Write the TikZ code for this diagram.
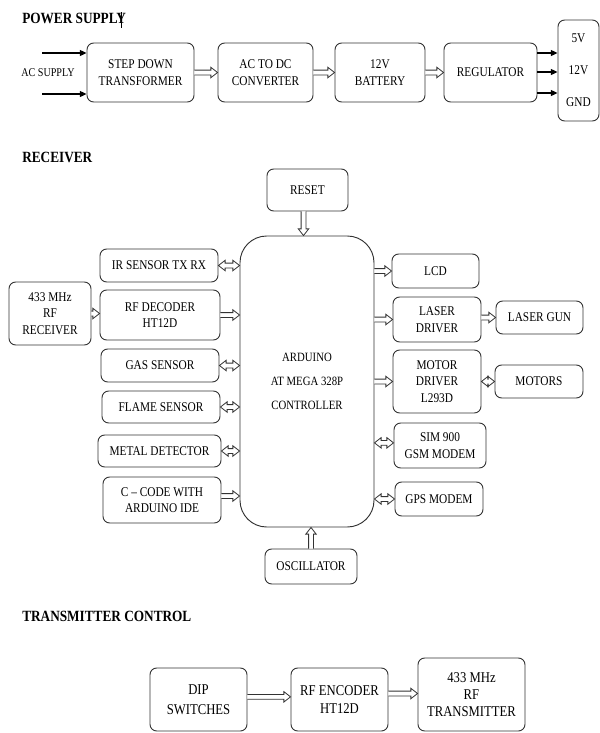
\documentclass[tikz,border=0pt]{standalone}
\usepackage{fontspec}
\setmainfont{Liberation Serif}[FakeStretch=0.85]
\usetikzlibrary{arrows.meta,calc}
\newcommand\bx[7][]{\node[box,#1,minimum width={(#5-#3)*0.75pt},minimum height={(#6-#4)*0.75pt}] (#2) at ({(#3+#5)/2},{(#4+#6)/2}) {#7};}
% hollow block arrow, one head at #2
\newcommand\harrow[2]{\draw[blk] let \p1=(#1),\p2=(#2),\n1={veclen(\x2-\x1,\y2-\y1)},\n2={(\x2-\x1)/\n1},\n3={(\y2-\y1)/\n1} in
  ({\x1-\n3*1.8pt},{\y1+\n2*1.8pt}) -- ({\x2-\n2*5pt-\n3*1.8pt},{\y2-\n3*5pt+\n2*1.8pt})
  -- ({\x2-\n2*5pt-\n3*3.9pt},{\y2-\n3*5pt+\n2*3.9pt}) -- (\x2,\y2)
  -- ({\x2-\n2*5pt+\n3*3.9pt},{\y2-\n3*5pt-\n2*3.9pt}) -- ({\x2-\n2*5pt+\n3*1.8pt},{\y2-\n3*5pt-\n2*1.8pt})
  -- ({\x1+\n3*1.8pt},{\y1-\n2*1.8pt});}
% hollow block arrow, heads at both ends
\newcommand\hdarrow[2]{\draw[blk] let \p1=(#1),\p2=(#2),\n1={veclen(\x2-\x1,\y2-\y1)},\n2={(\x2-\x1)/\n1},\n3={(\y2-\y1)/\n1} in
  (\x1,\y1) -- ({\x1+\n2*5pt-\n3*3.9pt},{\y1+\n3*5pt+\n2*3.9pt}) -- ({\x1+\n2*5pt-\n3*1.8pt},{\y1+\n3*5pt+\n2*1.8pt})
  -- ({\x2-\n2*5pt-\n3*1.8pt},{\y2-\n3*5pt+\n2*1.8pt}) -- ({\x2-\n2*5pt-\n3*3.9pt},{\y2-\n3*5pt+\n2*3.9pt}) -- (\x2,\y2)
  -- ({\x2-\n2*5pt+\n3*3.9pt},{\y2-\n3*5pt-\n2*3.9pt}) -- ({\x2-\n2*5pt+\n3*1.8pt},{\y2-\n3*5pt-\n2*1.8pt})
  -- ({\x1+\n2*5pt+\n3*1.8pt},{\y1+\n3*5pt-\n2*1.8pt}) -- ({\x1+\n2*5pt+\n3*3.9pt},{\y1+\n3*5pt-\n2*3.9pt}) -- cycle;}
\begin{document}
\begin{tikzpicture}[x=0.75pt,y=-0.75pt,
  box/.style={draw=black!80,line width=0.7pt,rounded corners=5pt,align=center,inner sep=0pt,font=\fontsize{10}{12.5}\selectfont},
  blk/.style={draw=black!80,line width=0.6pt,fill=white,line join=miter},
  tarr/.style={draw=black,line width=0.8pt,-{Triangle[length=5pt,width=4.5pt]}},
  title/.style={font=\bfseries\fontsize{11.7}{13}\selectfont,anchor=base west,inner sep=0pt}]
\useasboundingbox[fill=white] (0,0) rectangle (600,733);
% titles
\node[title] (t1) at (22,23) {POWER SUPPLY};
\draw[line width=0.3pt] (121,12) -- (121,28);
\node[title] (t2) at (22,162) {RECEIVER};
\node[title] (t3) at (22,621) {TRANSMITTER CONTROL};
% power supply
\bx{sd}{87}{43}{194}{102}{STEP DOWN\\TRANSFORMER}
\bx{acdc}{218}{43}{313}{102}{AC TO DC\\CONVERTER}
\bx{bat}{335}{43}{425}{102}{12V\\BATTERY}
\bx{reg}{444}{43}{537}{102}{REGULATOR}
\bx[font=\fontsize{10}{24}\selectfont]{out}{558}{20}{599}{121}{5V\\12V\\GND}
\node[font=\fontsize{8.9}{10}\selectfont,inner sep=0pt] (acs) at (48,73) {AC SUPPLY};
\coordinate (ac1) at (42,53);
\coordinate (ac2) at (42,94);
\draw[tarr] (ac1) -- (ac1 -| sd.west);
\draw[tarr] (ac2) -- (ac2 -| sd.west);
\harrow{sd.east}{acdc.west}
\harrow{acdc.east}{bat.west}
\harrow{bat.east}{reg.west}
\foreach \yy in {53,72,93} \draw[tarr] (reg.east |- 0,\yy) -- (out.west |- 0,\yy);
% receiver
\bx{reset}{267}{169}{348}{211}{RESET}
\bx[rounded corners=20pt,font=\fontsize{9.5}{18}\selectfont]{ard}{240}{236}{374}{527}{ARDUINO\\AT MEGA 328P\\CONTROLLER}
\bx{ir}{100}{249}{218}{282}{IR SENSOR TX RX}
\bx{rfr}{9}{282}{91}{345}{433 MHz\\RF\\RECEIVER}
\bx{rfd}{100}{290}{220}{340}{RF DECODER\\HT12D}
\bx{gas}{101}{349}{219}{382}{GAS SENSOR}
\bx{flame}{102}{391}{220}{423}{FLAME SENSOR}
\bx{metal}{98}{435}{221}{467}{METAL DETECTOR}
\bx{code}{103}{477}{221}{523}{C – CODE WITH\\ARDUINO IDE}
\bx{osc}{265}{549}{357}{584}{OSCILLATOR}
\bx{lcd}{392}{254}{479}{288}{LCD}
\bx{ld}{393}{297}{481}{342}{LASER\\DRIVER}
\bx{lg}{496}{301}{583}{334}{LASER GUN}
\bx{md}{393}{350}{481}{413}{MOTOR\\DRIVER\\L293D}
\bx{mot}{495}{365}{583}{398}{MOTORS}
\bx{sim}{394}{423}{486}{468}{SIM 900\\GSM MODEM}
\bx{gps}{395}{482}{483}{516}{GPS MODEM}
\harrow{[xshift=-3pt]reset.south}{[xshift=-3pt]reset.south |- ard.north}
\harrow{osc.north}{osc.north |- ard.south}
\hdarrow{ir.east}{ir.east -| ard.west}
\harrow{rfr.east}{rfr.east -| rfd.west}
\harrow{rfd.east}{rfd.east -| ard.west}
\hdarrow{gas.east}{gas.east -| ard.west}
\hdarrow{flame.east}{flame.east -| ard.west}
\hdarrow{metal.east}{metal.east -| ard.west}
\harrow{[yshift=3pt]code.east}{[yshift=3pt]code.east -| ard.west}
\harrow{lcd.west -| ard.east}{lcd.west}
\harrow{ld.west -| ard.east}{ld.west}
\harrow{lg.west -| ld.east}{lg.west}
\harrow{md.west -| ard.east}{md.west}
\hdarrow{md.east}{md.east -| mot.west}
\hdarrow{[yshift=2pt]sim.west -| ard.east}{[yshift=2pt]sim.west}
\hdarrow{gps.west -| ard.east}{gps.west}
% transmitter
\bx[font=\fontsize{11.2}{15}\selectfont]{dip}{150}{668}{247}{731}{DIP\\SWITCHES}
\bx[font=\fontsize{11.2}{13}\selectfont]{enc}{291}{668}{388}{731}{RF ENCODER\\HT12D}
\bx[font=\fontsize{11.2}{12.5}\selectfont]{tx}{418}{658}{525}{731}{433 MHz\\RF\\TRANSMITTER}
\harrow{[yshift=2pt]dip.east}{[yshift=2pt]dip.east -| enc.west}
\harrow{[yshift=4.5pt]enc.east}{[yshift=4.5pt]enc.east -| tx.west}
\end{tikzpicture}
\end{document}
